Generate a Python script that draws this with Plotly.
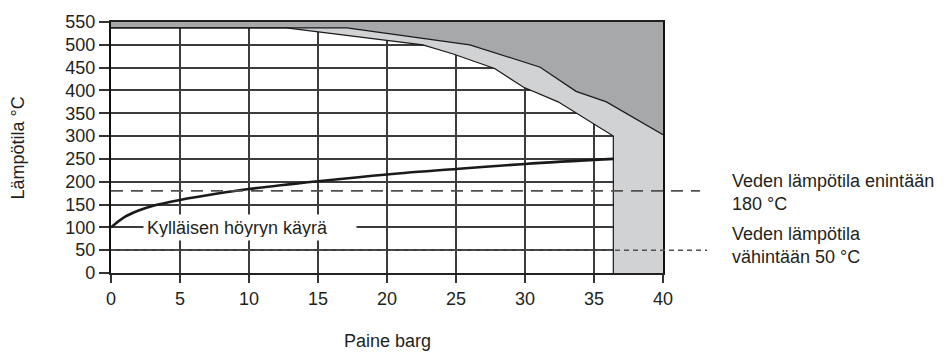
import plotly.graph_objects as go

# ---- data ----
x_ticks = [0, 5, 10, 15, 20, 25, 30, 35, 40]
y_ticks = [0, 50, 100, 150, 200, 250, 300, 350, 400, 450, 500, 550]

# saturated steam curve (barg, °C)
sat_pressure = [0, 1, 2, 3, 5, 7.5, 10, 15, 20, 25, 30, 36.4]
sat_temp = [100, 123, 137, 147, 160, 173, 184, 201, 216, 228, 239, 250]

# boundary between dark and light grey areas
upper_pressure = [0, 17.1, 26, 31.1, 33.7, 35.9, 40]
upper_temp = [537, 537, 500, 451, 398, 375, 303]

# boundary between light grey area and allowed (white) area
lower_pressure = [0, 12.7, 22.6, 24.8, 27.8, 29.9, 32.4, 36.4, 36.4]
lower_temp = [537, 537, 500, 480, 448, 407, 375, 300, 0]

water_max_temp = 180
water_min_temp = 50

x_max = 40
y_max = 550

# ---- style ----
FONT = "Arial, Liberation Sans, sans-serif"
TXT = "#231f20"
DARK = "#a7a8aa"
LIGHT = "#d1d2d4"
GRID = "#3c3c3c"
FS = 18

fig = go.Figure()

# dark grey region
fig.add_trace(go.Scatter(
    x=upper_pressure + [x_max, 0], y=upper_temp + [y_max, y_max],
    fill="toself", fillcolor=DARK, mode="lines", line=dict(width=0),
    hoverinfo="skip", showlegend=False))

# light grey region
fig.add_trace(go.Scatter(
    x=lower_pressure + [x_max] + upper_pressure[::-1],
    y=lower_temp + [0] + upper_temp[::-1],
    fill="toself", fillcolor=LIGHT, mode="lines", line=dict(width=0),
    hoverinfo="skip", showlegend=False))

# boundary outlines
fig.add_trace(go.Scatter(x=upper_pressure, y=upper_temp, mode="lines",
                         line=dict(color="#1a1a1a", width=1.2),
                         hoverinfo="skip", showlegend=False))
fig.add_trace(go.Scatter(x=lower_pressure, y=lower_temp, mode="lines",
                         line=dict(color="#1a1a1a", width=1.2),
                         hoverinfo="skip", showlegend=False))

# saturated steam curve
fig.add_trace(go.Scatter(x=sat_pressure, y=sat_temp, mode="lines",
                         line=dict(color="#1a1a1a", width=2.6, shape="spline", smoothing=1.0),
                         hoverinfo="skip", showlegend=False))

# dashed reference lines (extend beyond plot to the right)
fig.add_shape(type="line", xref="paper", yref="paper",
              x0=0, x1=1.067, y0=water_max_temp / y_max, y1=water_max_temp / y_max,
              line=dict(color="#505050", width=1.6, dash="12px,8px"))
fig.add_shape(type="line", xref="paper", yref="paper",
              x0=0, x1=1.08, y0=water_min_temp / y_max, y1=water_min_temp / y_max,
              line=dict(color="#505050", width=1.4, dash="5px,4px"))

# label on curve
fig.add_annotation(x=10.07, y=100, xref="x", yref="y", showarrow=False,
                   text="Kylläisen höyryn käyrä", font=dict(family=FONT, size=FS, color=TXT),
                   bgcolor="white", width=206, height=19, borderpad=3, align="left")

# right side labels
fig.add_annotation(x=1.1214, y=0.319, xref="paper", yref="paper", showarrow=False,
                   xanchor="left", yanchor="middle", align="left",
                   text="Veden lämpötila enintään<br>180 °C",
                   font=dict(family=FONT, size=FS, color=TXT))
fig.add_annotation(x=1.1214, y=0.109, xref="paper", yref="paper", showarrow=False,
                   xanchor="left", yanchor="middle", align="left",
                   text="Veden lämpötila<br>vähintään 50 °C",
                   font=dict(family=FONT, size=FS, color=TXT))

# axis titles
fig.add_annotation(x=-0.1685, y=0.5, xref="paper", yref="paper", showarrow=False,
                   xanchor="center", yanchor="middle",
                   text="Lämpötila °C", textangle=-90,
                   font=dict(family=FONT, size=FS, color=TXT))
fig.add_annotation(x=0.5, y=-0.272, xref="paper", yref="paper", showarrow=False,
                   xanchor="center", yanchor="middle",
                   text="Paine barg", font=dict(family=FONT, size=FS, color=TXT))

fig.update_xaxes(range=[0, x_max], tickvals=x_ticks, showgrid=True, gridcolor=GRID,
                 gridwidth=1.5, showline=True, linecolor="#222", linewidth=2, mirror=True,
                 ticks="outside", ticklen=8, tickwidth=1.5, tickcolor="#333",
                 tickfont=dict(family=FONT, size=FS, color=TXT), zeroline=False)
fig.update_yaxes(range=[0, y_max], tickvals=y_ticks, showgrid=True, gridcolor=GRID,
                 gridwidth=1.5, showline=True, linecolor="#111", linewidth=2.2, mirror=True,
                 ticks="outside", ticklen=10, tickwidth=1.5, tickcolor="#333",
                 tickfont=dict(family=FONT, size=FS, color=TXT), zeroline=False)

fig.update_layout(width=951, height=352, margin=dict(l=111, r=288, t=16, b=79),
                  plot_bgcolor="white", paper_bgcolor="white", showlegend=False,
                  font=dict(family=FONT, color=TXT))

fig.write_html("out.html", config={"displayModeBar": False},
               post_script="document.body.style.margin='0';document.body.style.overflow='hidden';")
